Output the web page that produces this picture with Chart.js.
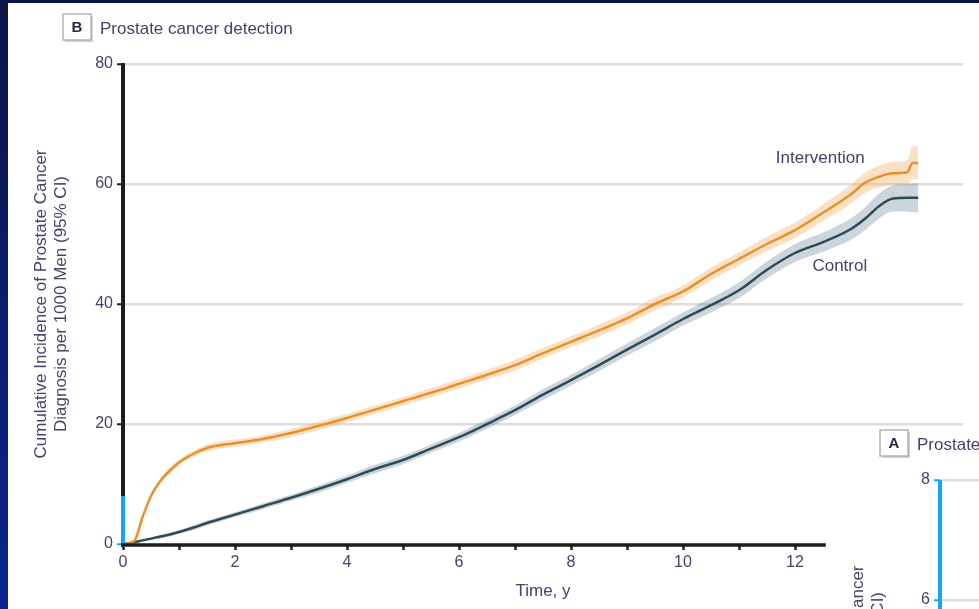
<!DOCTYPE html>
<html lang="en">
  <head>
    <meta charset="UTF-8" />
    <title>Prostate cancer detection</title>
    <script src="https://cdn.jsdelivr.net/npm/chart.js"></script>
    <style>
      html, body { margin: 0; padding: 0; width: 979px; height: 609px; overflow: hidden; }
      body { position: relative; background: linear-gradient(#0b1446, #0a2590); }
      .slide { position: absolute; left: 8px; top: 3px; right: 0; bottom: 0; background: #fff; }
      canvas { position: absolute; }
      #panelB { left: 0; top: 0; }
      #panelA { left: 817px; top: 416px; }
    </style>
  </head>
  <body>
    <div class="slide"></div>
    <canvas id="panelB" width="979" height="609"></canvas>
    <canvas id="panelA" width="979" height="609"></canvas>

    <script>
      // follow-up time, years
      const times = [0, 0.2, 0.35, 0.5, 0.65, 0.8, 1, 1.25, 1.5, 1.75, 2, 2.5, 3, 3.5, 4, 4.5, 5, 5.5, 6, 6.5,
        7, 7.5, 8, 8.5, 9, 9.5, 10, 10.5, 11, 11.5, 12, 12.5, 13, 13.25, 13.5, 13.75, 14, 14.1, 14.2];

      // cumulative incidence per 1000 men
      const intervention = [0, 0.5, 4.5, 8.0, 10.3, 11.9, 13.6, 15.0, 16.0, 16.5, 16.8, 17.5, 18.5, 19.7, 21.0, 22.4,
        23.8, 25.2, 26.7, 28.2, 29.8, 31.8, 33.7, 35.6, 37.6, 40.0, 42.1, 45.0, 47.5, 50.0, 52.3, 55.2, 58.3, 60.2,
        61.2, 61.8, 61.9, 63.5, 63.5];
      const interventionLow = [0, 0.3, 4.2, 7.6, 9.9, 11.4, 13.1, 14.5, 15.4, 15.9, 16.2, 16.9, 17.8, 19.0, 20.3, 21.7,
        23.1, 24.4, 25.9, 27.4, 28.9, 30.9, 32.8, 34.6, 36.6, 38.9, 41.1, 43.9, 46.4, 48.8, 51.0, 53.8, 56.7, 58.5,
        59.4, 59.9, 59.9, 60.8, 60.8];
      const interventionHigh = [0, 0.7, 4.8, 8.4, 10.7, 12.4, 14.1, 15.5, 16.6, 17.1, 17.4, 18.1, 19.2, 20.4, 21.7, 23.1,
        24.5, 26.0, 27.5, 29.0, 30.7, 32.7, 34.6, 36.6, 38.6, 41.1, 43.1, 46.1, 48.6, 51.2, 53.6, 56.6, 59.9, 61.9,
        63.0, 63.7, 63.9, 66.3, 66.3];

      const control = [0, 0.3, 0.6, 0.9, 1.2, 1.5, 2.0, 2.7, 3.5, 4.2, 4.9, 6.3, 7.7, 9.2, 10.8, 12.5, 14.0, 15.9,
        17.8, 20.0, 22.3, 24.9, 27.3, 29.8, 32.4, 34.9, 37.5, 39.8, 42.3, 45.7, 48.5, 50.3, 52.5, 54.2, 56.3, 57.6,
        57.7, 57.7, 57.7];
      const controlLow = [0, 0.2, 0.4, 0.7, 0.9, 1.2, 1.7, 2.3, 3.1, 3.8, 4.5, 5.8, 7.2, 8.6, 10.2, 11.8, 13.3, 15.2,
        17.1, 19.2, 21.5, 24.0, 26.4, 28.8, 31.4, 33.8, 36.4, 38.6, 41.0, 44.3, 47.0, 48.7, 50.7, 52.3, 54.2, 55.4,
        55.4, 55.3, 55.3];
      const controlHigh = [0, 0.4, 0.8, 1.1, 1.5, 1.8, 2.3, 3.1, 3.9, 4.6, 5.3, 6.8, 8.2, 9.8, 11.4, 13.2, 14.7, 16.6,
        18.5, 20.8, 23.1, 25.8, 28.2, 30.8, 33.4, 36.0, 38.6, 41.0, 43.6, 47.1, 50.0, 51.9, 54.3, 56.1, 58.4, 59.8,
        60.0, 60.1, 60.1];

      // axes
      const xTickMarks = [0, 1, 2, 3, 4, 5, 6, 7, 8, 9, 10, 11, 12];
      const xTickLabels = [0, 2, 4, 6, 8, 10, 12];
      const yTicksB = [0, 20, 40, 60, 80];
      const yTicksA = [0, 2, 4, 6, 8];

      const ORANGE = "#e8912b";
      const ORANGE_BAND = "rgba(242, 170, 90, 0.35)";
      const SLATE = "#2d4a58";
      const SLATE_BAND = "rgba(95, 125, 145, 0.32)";
      const BLUE = "#12a9ec";
      const AXIS = "#1c1c1c";
      const TEXT = "#43436c";

      Chart.defaults.font.family = "'Liberation Sans', Arial, sans-serif";
      Chart.defaults.color = TEXT;

      const pts = (ys) => times.map((t, i) => ({ x: t, y: ys[i] }));

      // axis lines, panel letter box, title and curve labels
      const panelDecor = {
        id: "panelDecor",
        afterDatasetsDraw(chart, args, opts) {
          const { ctx, chartArea: a } = chart;
          const x = chart.scales.x, y = chart.scales.y;
          ctx.save();
          const yBlue = y.getPixelForValue(opts.blueTo);
          ctx.lineWidth = 4;
          if (opts.blueTo < y.max) {
            ctx.strokeStyle = AXIS;
            ctx.beginPath();
            ctx.moveTo(a.left, a.top - 1);
            ctx.lineTo(a.left, yBlue);
            ctx.stroke();
          }
          ctx.strokeStyle = BLUE;
          ctx.beginPath();
          ctx.moveTo(a.left, yBlue);
          ctx.lineTo(a.left, a.bottom + 3);
          ctx.stroke();

          ctx.strokeStyle = AXIS;
          ctx.lineWidth = 3.5;
          ctx.beginPath();
          ctx.moveTo(a.left - 2, a.bottom + 1);
          ctx.lineTo(x.getPixelForValue(opts.xEnd), a.bottom + 1);
          ctx.stroke();

          // letter box
          const bx = a.left - 60, by = a.top - 50;
          ctx.fillStyle = "rgba(0,0,0,0.18)";
          ctx.fillRect(bx + 2, by + 2, 28, 26);
          ctx.fillStyle = "#fff";
          ctx.fillRect(bx, by, 28, 26);
          ctx.strokeStyle = "#b4b4b4";
          ctx.lineWidth = 1.5;
          ctx.strokeRect(bx, by, 28, 26);
          ctx.fillStyle = "#2a2446";
          ctx.font = "bold 15px 'Liberation Sans', Arial, sans-serif";
          ctx.textAlign = "center";
          ctx.textBaseline = "middle";
          ctx.fillText(opts.letter, bx + 14, by + 14);

          ctx.fillStyle = TEXT;
          ctx.font = "17px 'Liberation Sans', Arial, sans-serif";
          ctx.textAlign = "left";
          ctx.fillText(opts.title, bx + 37, by + 15);

          (opts.notes || []).forEach((n) => {
            ctx.textAlign = "center";
            ctx.fillText(n.text, x.getPixelForValue(n.x), y.getPixelForValue(n.y));
          });
          ctx.restore();
        },
      };

      function makePanel(id, datasets, yMax, yTicks, decor) {
        return new Chart(document.getElementById(id), {
          type: "line",
          data: { datasets: datasets },
          plugins: [panelDecor],
          options: {
            responsive: false,
            animation: false,
            events: [],
            layout: { padding: { left: 20, top: 64, right: 16, bottom: 0 } },
            elements: { point: { radius: 0 }, line: { cubicInterpolationMode: "monotone" } },
            plugins: {
              legend: { display: false },
              tooltip: { enabled: false },
              panelDecor: decor,
            },
            scales: {
              x: {
                type: "linear",
                min: 0,
                max: 15,
                afterBuildTicks: (s) => { s.ticks = xTickMarks.map((v) => ({ value: v })); },
                afterFit: (s) => { s.height = 65; },
                border: { display: false },
                grid: {
                  drawOnChartArea: false,
                  drawTicks: true,
                  tickLength: 6,
                  tickWidth: 2.5,
                  tickColor: AXIS,
                },
                ticks: {
                  autoSkip: false,
                  maxRotation: 0,
                  padding: 3,
                  font: { size: 16 },
                  callback: (v) => (xTickLabels.includes(v) ? v : ""),
                },
                title: {
                  display: true,
                  text: "Time, y",
                  font: { size: 17, lineHeight: "20px" },
                  padding: { top: 0, bottom: 8 },
                },
              },
              y: {
                min: 0,
                max: yMax,
                afterBuildTicks: (s) => { s.ticks = yTicks.map((v) => ({ value: v })); },
                afterFit: (s) => { s.width = 103; },
                border: { display: false },
                grid: {
                  color: (c) => (c.tick && c.tick.value === 0 ? "rgba(0,0,0,0)" : "#dedede"),
                  lineWidth: 2.5,
                  tickLength: 6,
                  tickWidth: 2,
                  tickColor: (c) => (c.tick && c.tick.value <= decor.blueTo ? BLUE : AXIS),
                },
                ticks: { padding: 4, font: { size: 16 } },
                title: {
                  display: true,
                  text: ["Cumulative Incidence of Prostate Cancer", "Diagnosis per 1000 Men (95% CI)"],
                  font: { size: 17, lineHeight: "20px" },
                  padding: { top: 11, bottom: 0 },
                },
              },
            },
          },
        });
      }

      makePanel(
        "panelB",
        [
          { label: "Intervention", data: pts(intervention), borderColor: ORANGE, borderWidth: 2.5, fill: false },
          { label: "Control", data: pts(control), borderColor: SLATE, borderWidth: 2.5, fill: false },
          { label: "Intervention 95% CI", data: pts(interventionHigh), borderWidth: 0, borderColor: "rgba(0,0,0,0)", backgroundColor: ORANGE_BAND, fill: "+1" },
          { label: "Intervention low", data: pts(interventionLow), borderWidth: 0, borderColor: "rgba(0,0,0,0)", fill: false },
          { label: "Control 95% CI", data: pts(controlHigh), borderWidth: 0, borderColor: "rgba(0,0,0,0)", backgroundColor: SLATE_BAND, fill: "+1" },
          { label: "Control low", data: pts(controlLow), borderWidth: 0, borderColor: "rgba(0,0,0,0)", fill: false },
        ],
        80,
        yTicksB,
        {
          letter: "B",
          title: "Prostate cancer detection",
          blueTo: 8,
          xEnd: 12.55,
          notes: [
            { text: "Intervention", x: 12.45, y: 64.3 },
            { text: "Control", x: 12.8, y: 46.3 },
          ],
        }
      );

      // panel A peeks in at the bottom right corner
      makePanel("panelA", [], 8, yTicksA, {
        letter: "A",
        title: "Prostate cancer mortality",
        blueTo: 8,
        xEnd: 12.55,
        notes: [],
      });
    </script>
  </body>
</html>
